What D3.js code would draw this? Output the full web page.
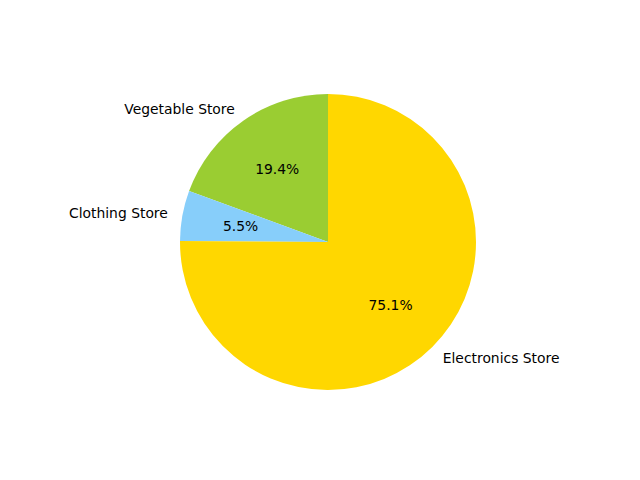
<!DOCTYPE html>
<html>
<head>
<meta charset="utf-8">
<script src="https://cdn.jsdelivr.net/npm/d3@7"></script>
<style>
  html, body { margin: 0; padding: 0; background: #fff; }
  svg { display: block; }
  text { font-family: "DejaVu Sans", sans-serif; font-size: 13.89px; fill: #000; }
</style>
</head>
<body>
<svg id="chart" width="640" height="480"></svg>
<script>
const categories = ["Vegetable Store", "Clothing Store", "Electronics Store"];
const values = [19.4, 5.5, 75.1];
const colors = ["#9ACD32", "#87CEFA", "#FFD700"];

const width = 640, height = 480;
const cx = 328, cy = 242, radius = 148;

const svg = d3.select("#chart");
const g = svg.append("g").attr("transform", `translate(${cx},${cy})`);

const data = categories.map((c, i) => ({ name: c, value: values[i], color: colors[i] }));
const total = d3.sum(values);

// matplotlib: startangle=90, counterclockwise
const pie = d3.pie().sort(null).value(d => d.value).startAngle(0).endAngle(-2 * Math.PI);
const arcs = pie(data);
const arc = d3.arc().innerRadius(0).outerRadius(radius);

g.selectAll("path.slice").data(arcs).enter().append("path")
  .attr("class", "slice")
  .attr("d", arc)
  .attr("fill", d => d.data.color);

function pos(d, r) {
  const a = (d.startAngle + d.endAngle) / 2;
  return [r * Math.sin(a), -r * Math.cos(a)];
}

g.selectAll("text.label").data(arcs).enter().append("text")
  .attr("class", "label")
  .attr("x", d => pos(d, radius * 1.1)[0])
  .attr("y", d => pos(d, radius * 1.1)[1])
  .attr("dy", "0.38em")
  .attr("text-anchor", d => pos(d, 1)[0] > 0 ? "start" : "end")
  .text(d => d.data.name);

g.selectAll("text.pct").data(arcs).enter().append("text")
  .attr("class", "pct")
  .attr("x", d => pos(d, radius * 0.6)[0])
  .attr("y", d => pos(d, radius * 0.6)[1])
  .attr("dy", "0.38em")
  .attr("text-anchor", "middle")
  .text(d => (d.data.value / total * 100).toFixed(1) + "%");
</script>
</body>
</html>
